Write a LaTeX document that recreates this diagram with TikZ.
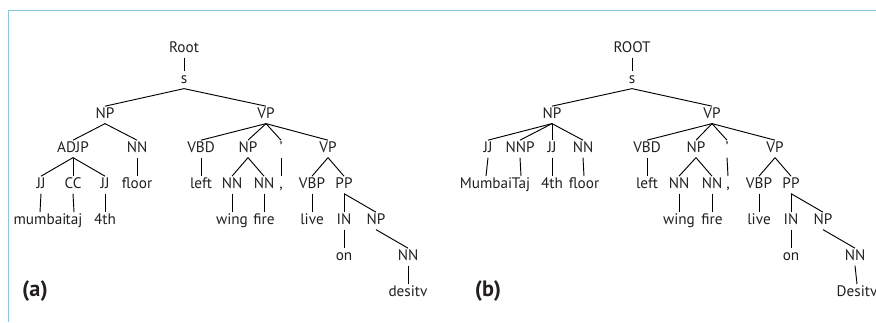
\documentclass[tikz,border=0pt]{standalone}
\usepackage{fontspec}
\setmainfont{PT Sans}
\definecolor{frameblue}{RGB}{141,196,225}
\definecolor{ink}{RGB}{35,31,32}
\tikzset{
  tag/.style={anchor=base, text=ink, font=\fontsize{13}{15}\selectfont,
    inner xsep=0.5pt, inner ysep=2.2pt, text height=0.75em, text depth=0.22em},
  panel/.style={anchor=base, text=ink, font=\fontsize{19}{22}\selectfont\bfseries},
}
\begin{document}
\begin{tikzpicture}[x=0.03cm, y=-0.03cm, line width=0.8pt]
    \useasboundingbox (0,0) rectangle (876,322);
    \draw[frameblue, line width=1.6pt] (8.5,322) -- (8.5,10.5) -- (876,10.5);

    % tree (a)
    \node(aRoot) at (184,52) [tag] {Root};
    \node(aS) at (184,83) [tag] {s};

    \node(aNP) at (105,118) [tag] {NP};
    \node(aVP) at (266,118) [tag] {VP};

    \node(aADJP) at (73,152) [tag] {ADJP};
    \node(aNN) at (137,152) [tag] {NN};
    \node(aVBD) at (201,152) [tag] {VBD};
    \node(aNPv) at (248,152) [tag] {NP};
    \node(aQ) at (281,152) [tag] {'};
    \node(aVPv) at (328,152) [tag] {VP};

    \node(aJJa) at (41,188) [tag] {JJ};
    \node(aCC) at (73,188) [tag] {CC};
    \node(aJJb) at (105,188) [tag] {JJ};
    \node(aFloor) at (137,188) [tag] {floor};
    \node(aLeft) at (201,188) [tag] {left};
    \node(aNNa) at (232,188) [tag] {NN};
    \node(aNNb) at (264,188) [tag] {NN};
    \node(aComma) at (281,188) [tag] {,};
    \node(aVBP) at (312,188) [tag] {VBP};
    \node(aPP) at (344,188) [tag] {PP};

    \node(aMumbai) at (40,224) [tag] {mumbai};
    \node(aTaj) at (74,224) [tag] {taj};
    \node(aFourth) at (105,224) [tag] {4th};
    \node(aWing) at (232,224) [tag] {wing};
    \node(aFire) at (264,224) [tag] {fire};
    \node(aLive) at (312,224) [tag] {live};
    \node(aIN) at (344,224) [tag] {IN};
    \node(aNPp) at (376,224) [tag] {NP};

    \node(aOn) at (344,260) [tag] {on};
    \node(aNNc) at (408,260) [tag] {NN};
    \node(aDesitv) at (408,296) [tag] {desitv};

    \node(aLabel) at (35,296) [panel] {(a)};

    \draw (aRoot.south) edge (aS.north);
    \draw (aS.south) edge (aNP.north) edge (aVP.north);
    \draw (aNP.south) edge (aADJP.north) edge (aNN.north);
    \draw (aVP.south) edge (aVBD.north) edge (aNPv.north) edge (aQ.north) edge (aVPv.north);
    \draw (aADJP.south) edge (aJJa.north) edge (aCC.north) edge (aJJb.north);
    \draw (aNN.south) edge (aFloor.north);
    \draw (aVBD.south) edge (aLeft.north);
    \draw (aNPv.south) edge (aNNa.north) edge (aNNb.north);
    \draw (aQ.south) edge (aComma.north);
    \draw (aVPv.south) edge (aVBP.north) edge (aPP.north);
    \draw (aJJa.south) edge (aMumbai.north);
    \draw (aCC.south) edge (aTaj.north);
    \draw (aJJb.south) edge (aFourth.north);
    \draw (aNNa.south) edge (aWing.north);
    \draw (aNNb.south) edge (aFire.north);
    \draw (aVBP.south) edge (aLive.north);
    \draw (aPP.south) edge (aIN.north) edge (aNPp.north);
    \draw (aIN.south) edge (aOn.north);
    \draw (aNPp.south) edge (aNNc.north);
    \draw (aNNc.south) edge (aDesitv.north);

    % tree (b)
    \node(bRoot) at (632,52) [tag] {ROOT};
    \node(bS) at (632,83) [tag] {s};

    \node(bNP) at (552,118) [tag] {NP};
    \node(bVP) at (712,118) [tag] {VP};

    \node(bJJa) at (488,152) [tag] {JJ};
    \node(bNNP) at (520,152) [tag] {NNP};
    \node(bJJb) at (552,152) [tag] {JJ};
    \node(bNN) at (583,152) [tag] {NN};
    \node(bVBD) at (647,152) [tag] {VBD};
    \node(bNPv) at (696,152) [tag] {NP};
    \node(bQ) at (727,152) [tag] {'};
    \node(bVPv) at (775,152) [tag] {VP};

    \node(bMumbai) at (486,188) [tag] {Mumbai};
    \node(bTaj) at (521,188) [tag] {Taj};
    \node(bFourth) at (552,188) [tag] {4th};
    \node(bFloor) at (584,188) [tag] {floor};
    \node(bLeft) at (647,188) [tag] {left};
    \node(bNNa) at (679,188) [tag] {NN};
    \node(bNNb) at (712,188) [tag] {NN};
    \node(bComma) at (728,188) [tag] {,};
    \node(bVBP) at (759,188) [tag] {VBP};
    \node(bPP) at (791,188) [tag] {PP};

    \node(bWing) at (679,224) [tag] {wing};
    \node(bFire) at (712,224) [tag] {fire};
    \node(bLive) at (759,224) [tag] {live};
    \node(bIN) at (791,224) [tag] {IN};
    \node(bNPp) at (823,224) [tag] {NP};

    \node(bOn) at (791,260) [tag] {on};
    \node(bNNc) at (855,260) [tag] {NN};
    \node(bDesitv) at (857,296) [tag] {Desitv};

    \node(bLabel) at (488,296) [panel] {(b)};

    \draw (bRoot.south) edge (bS.north);
    \draw (bS.south) edge (bNP.north) edge (bVP.north);
    \draw (bNP.south) edge (bJJa.north) edge (bNNP.north) edge (bJJb.north) edge (bNN.north);
    \draw (bVP.south) edge (bVBD.north) edge (bNPv.north) edge (bQ.north) edge (bVPv.north);
    \draw (bJJa.south) edge (bMumbai.north);
    \draw (bNNP.south) edge (bTaj.north);
    \draw (bJJb.south) edge (bFourth.north);
    \draw (bNN.south) edge (bFloor.north);
    \draw (bVBD.south) edge (bLeft.north);
    \draw (bNPv.south) edge (bNNa.north) edge (bNNb.north);
    \draw (bQ.south) edge (bComma.north);
    \draw (bVPv.south) edge (bVBP.north) edge (bPP.north);
    \draw (bNNa.south) edge (bWing.north);
    \draw (bNNb.south) edge (bFire.north);
    \draw (bVBP.south) edge (bLive.north);
    \draw (bPP.south) edge (bIN.north) edge (bNPp.north);
    \draw (bIN.south) edge (bOn.north);
    \draw (bNPp.south) edge (bNNc.north);
    \draw (bNNc.south) edge (bDesitv.north);
\end{tikzpicture}
\end{document}
